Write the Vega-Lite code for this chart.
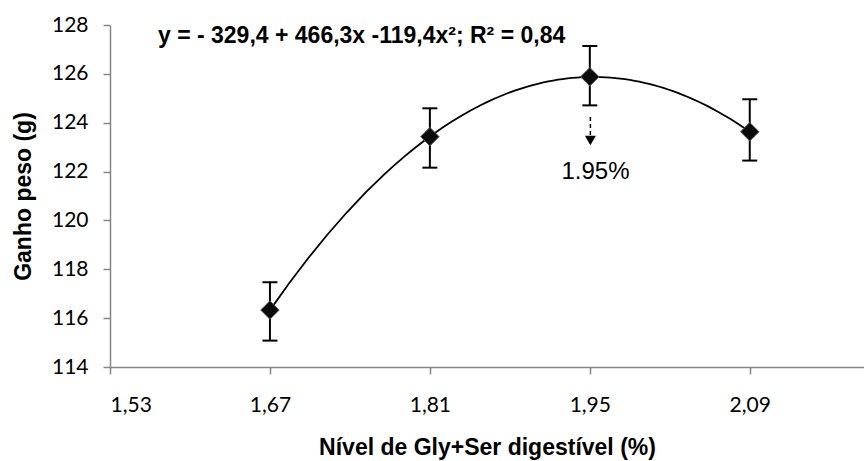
{
  "$schema": "https://vega.github.io/schema/vega-lite/v6.json",
  "width": 754,
  "height": 342,
  "autosize": {"type": "none"},
  "padding": {"left": 110, "top": 25, "right": 0, "bottom": 94},
  "background": "white",
  "config": {
    "view": {"stroke": null},
    "axis": {
      "grid": false,
      "domainColor": "#868686",
      "domainWidth": 1.5,
      "tickColor": "#868686",
      "tickWidth": 1.5,
      "tickSize": 7,
      "labelFont": "Lato",
      "labelFontSize": 21,
      "labelColor": "#000000",
      "titleFont": "Liberation Sans",
      "titleFontWeight": "bold",
      "titleFontSize": 23,
      "titleColor": "#000000"
    }
  },
  "datasets": {
    "pts": [
      {"nivel": 1.67, "ganho": 116.33, "lo": 115.08, "hi": 117.47},
      {"nivel": 1.81, "ganho": 123.43, "lo": 122.16, "hi": 124.59},
      {"nivel": 1.95, "ganho": 125.88, "lo": 124.71, "hi": 127.14},
      {"nivel": 2.09, "ganho": 123.63, "lo": 122.45, "hi": 124.96}
    ],
    "eq": [{"nivel": 1.572, "ganho": 127.28, "t": "y = - 329,4 + 466,3x -119,4x²; R² = 0,84"}],
    "lab": [{"nivel": 1.955, "ganho": 121.68, "t": "1.95%"}],
    "arrow": [{"nivel": 1.9505, "ganho": 124.23, "end": 123.45}],
    "head": [{"nivel": 1.9505, "ganho": 123.27}]
  },
  "layer": [
    {
      "data": {"name": "pts"},
      "transform": [
        {"regression": "ganho", "on": "nivel", "method": "poly", "order": 2, "extent": [1.67, 2.09]}
      ],
      "mark": {"type": "line", "color": "#000000", "strokeWidth": 1.8},
      "encoding": {
        "x": {
          "field": "nivel", "type": "quantitative",
          "scale": {"domain": [1.53, 2.19], "nice": false, "zero": false},
          "title": "Nível de Gly+Ser digestível (%)",
          "axis": {
            "values": [1.53, 1.67, 1.81, 1.95, 2.09],
            "labelExpr": "replace(format(datum.value, '.2f'), '.', ',')",
            "labelPadding": 20,
            "titlePadding": 21
          }
        },
        "y": {
          "field": "ganho", "type": "quantitative",
          "scale": {"domain": [114, 128], "nice": false, "zero": false},
          "title": "Ganho peso (g)",
          "axis": {
            "values": [114, 116, 118, 120, 122, 124, 126, 128],
            "labelPadding": 15,
            "titlePadding": 16
          }
        }
      }
    },
    {
      "data": {"name": "pts"},
      "mark": {"type": "rule", "color": "#000000", "strokeWidth": 2},
      "encoding": {
        "x": {"field": "nivel", "type": "quantitative", "scale": {"domain": [1.53, 2.19], "nice": false, "zero": false}, "title": "Nível de Gly+Ser digestível (%)"},
        "y": {"field": "lo", "type": "quantitative", "scale": {"domain": [114, 128], "nice": false, "zero": false}, "title": "Ganho peso (g)"},
        "y2": {"field": "hi"}
      }
    },
    {
      "data": {"name": "pts"},
      "mark": {"type": "tick", "orient": "horizontal", "color": "#000000", "size": 15, "thickness": 2, "opacity": 1},
      "encoding": {
        "x": {"field": "nivel", "type": "quantitative", "scale": {"domain": [1.53, 2.19], "nice": false, "zero": false}, "title": "Nível de Gly+Ser digestível (%)"},
        "y": {"field": "lo", "type": "quantitative", "scale": {"domain": [114, 128], "nice": false, "zero": false}, "title": "Ganho peso (g)"}
      }
    },
    {
      "data": {"name": "pts"},
      "mark": {"type": "tick", "orient": "horizontal", "color": "#000000", "size": 15, "thickness": 2, "opacity": 1},
      "encoding": {
        "x": {"field": "nivel", "type": "quantitative", "scale": {"domain": [1.53, 2.19], "nice": false, "zero": false}, "title": "Nível de Gly+Ser digestível (%)"},
        "y": {"field": "hi", "type": "quantitative", "scale": {"domain": [114, 128], "nice": false, "zero": false}, "title": "Ganho peso (g)"}
      }
    },
    {
      "data": {"name": "pts"},
      "mark": {"type": "point", "shape": "diamond", "filled": true, "size": 340, "color": "#0a0a0a", "stroke": "#555555", "strokeWidth": 1, "opacity": 1},
      "encoding": {
        "x": {"field": "nivel", "type": "quantitative", "scale": {"domain": [1.53, 2.19], "nice": false, "zero": false}, "title": "Nível de Gly+Ser digestível (%)"},
        "y": {"field": "ganho", "type": "quantitative", "scale": {"domain": [114, 128], "nice": false, "zero": false}, "title": "Ganho peso (g)"}
      }
    },
    {
      "data": {"name": "eq"},
      "mark": {"type": "text", "align": "left", "baseline": "alphabetic", "font": "Liberation Sans", "fontWeight": "bold", "fontSize": 23, "color": "#000000"},
      "encoding": {
        "x": {"field": "nivel", "type": "quantitative", "scale": {"domain": [1.53, 2.19], "nice": false, "zero": false}, "title": "Nível de Gly+Ser digestível (%)"},
        "y": {"field": "ganho", "type": "quantitative", "scale": {"domain": [114, 128], "nice": false, "zero": false}, "title": "Ganho peso (g)"},
        "text": {"field": "t"}
      }
    },
    {
      "data": {"name": "lab"},
      "mark": {"type": "text", "align": "center", "baseline": "alphabetic", "font": "Liberation Sans", "fontSize": 24, "color": "#000000"},
      "encoding": {
        "x": {"field": "nivel", "type": "quantitative", "scale": {"domain": [1.53, 2.19], "nice": false, "zero": false}, "title": "Nível de Gly+Ser digestível (%)"},
        "y": {"field": "ganho", "type": "quantitative", "scale": {"domain": [114, 128], "nice": false, "zero": false}, "title": "Ganho peso (g)"},
        "text": {"field": "t"}
      }
    },
    {
      "data": {"name": "arrow"},
      "mark": {"type": "rule", "color": "#000000", "strokeWidth": 1.5, "strokeDash": [4, 3]},
      "encoding": {
        "x": {"field": "nivel", "type": "quantitative", "scale": {"domain": [1.53, 2.19], "nice": false, "zero": false}, "title": "Nível de Gly+Ser digestível (%)"},
        "y": {"field": "ganho", "type": "quantitative", "scale": {"domain": [114, 128], "nice": false, "zero": false}, "title": "Ganho peso (g)"},
        "y2": {"field": "end"}
      }
    },
    {
      "data": {"name": "head"},
      "mark": {"type": "point", "shape": "triangle-down", "filled": true, "size": 120, "color": "#000000", "opacity": 1},
      "encoding": {
        "x": {"field": "nivel", "type": "quantitative", "scale": {"domain": [1.53, 2.19], "nice": false, "zero": false}, "title": "Nível de Gly+Ser digestível (%)"},
        "y": {"field": "ganho", "type": "quantitative", "scale": {"domain": [114, 128], "nice": false, "zero": false}, "title": "Ganho peso (g)"}
      }
    }
  ]
}
